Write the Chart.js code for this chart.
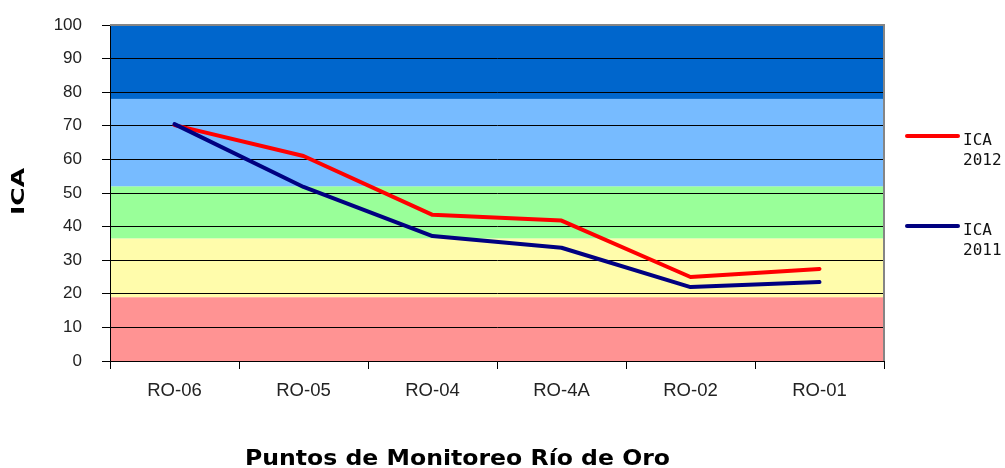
<!DOCTYPE html>
<html>
<head>
<meta charset="utf-8">
<script src="https://cdn.jsdelivr.net/npm/chart.js@4/dist/chart.umd.min.js"></script>
<style>
  html, body { margin: 0; padding: 0; background: #ffffff; }
  #wrap { width: 1005px; height: 468px; }
</style>
</head>
<body>
<div id="wrap"><canvas id="c" width="1005" height="468"></canvas></div>
<script>
// ---- data ----
const categories = ['RO-06', 'RO-05', 'RO-04', 'RO-4A', 'RO-02', 'RO-01'];
const ica2012 = [70.2, 61, 43.5, 41.8, 25, 27.4];
const ica2011 = [70.5, 51.8, 37.2, 33.7, 22, 23.5];
const seriesNames = [['ICA', '2012'], ['ICA', '2011']];
const yTicks = [0, 10, 20, 30, 40, 50, 60, 70, 80, 90, 100];
const bandEdges = [0, 19, 36.5, 52, 78, 100];
const bandColors = ['#FF9393', '#FFFCAB', '#99FF99', '#77BBFF', '#0066CC'];
const xTitle = 'Puntos de Monitoreo Río de Oro';
const yTitle = 'ICA';

const bandsPlugin = {
  id: 'bands',
  beforeDraw(chart) {
    const { ctx, chartArea: a, scales: { y } } = chart;
    ctx.save();
    for (let i = 0; i < bandColors.length; i++) {
      const top = y.getPixelForValue(bandEdges[i + 1]);
      const bot = y.getPixelForValue(bandEdges[i]);
      ctx.fillStyle = bandColors[i];
      ctx.fillRect(a.left, top, a.right - a.left, bot - top);
    }
    ctx.restore();
  },
  afterDraw(chart) {
    const { ctx, chartArea: a } = chart;
    ctx.save();
    // gray top/right frame
    ctx.strokeStyle = '#858585';
    ctx.lineWidth = 2;
    ctx.beginPath();
    ctx.moveTo(a.left, a.top);
    ctx.lineTo(a.right, a.top);
    ctx.lineTo(a.right, a.bottom);
    ctx.stroke();

    // legend
    const ds = chart.data.datasets;
    const legendY = [136, 226];
    ctx.font = '16px "DejaVu Sans Mono"';
    ctx.textBaseline = 'alphabetic';
    ctx.textAlign = 'left';
    ds.forEach((d, i) => {
      const yy = legendY[i];
      ctx.strokeStyle = d.borderColor;
      ctx.lineWidth = 4;
      ctx.lineCap = 'round';
      ctx.beginPath();
      ctx.moveTo(907, yy);
      ctx.lineTo(958, yy);
      ctx.stroke();
      ctx.fillStyle = '#111';
      d.legendLines.forEach((t, k) => {
        ctx.fillText(t, 963, yy + 9 + k * 20);
      });
    });

    // x title
    ctx.fillStyle = '#000';
    ctx.font = 'bold 21px "DejaVu Sans"';
    ctx.textAlign = 'center';
    let w = ctx.measureText(xTitle).width;
    ctx.save();
    ctx.translate(457.5, 465);
    ctx.scale(425 / w, 1);
    ctx.fillText(xTitle, 0, 0);
    ctx.restore();

    // y title
    ctx.font = 'bold 17px "DejaVu Sans"';
    w = ctx.measureText(yTitle).width;
    ctx.save();
    ctx.translate(23.5, 191.5);
    ctx.rotate(-Math.PI / 2);
    ctx.scale(47 / w, 1);
    ctx.textAlign = 'center';
    ctx.fillText(yTitle, 0, 0);
    ctx.restore();
    ctx.restore();
  }
};

new Chart(document.getElementById('c'), {
  type: 'line',
  data: {
    labels: categories,
    datasets: [
      { label: 'ICA 2012', legendLines: seriesNames[0], data: ica2012, borderColor: '#FF0000',
        borderWidth: 4, pointRadius: 0, tension: 0, order: 1,
        borderCapStyle: 'round', borderJoinStyle: 'round' },
      { label: 'ICA 2011', legendLines: seriesNames[1], data: ica2011, borderColor: '#000080',
        borderWidth: 4, pointRadius: 0, tension: 0, order: 0,
        borderCapStyle: 'round', borderJoinStyle: 'round' }
    ]
  },
  options: {
    responsive: false,
    animation: false,
    events: [],
    layout: { padding: { top: 25, right: 121, left: 0, bottom: 0 } },
    plugins: { legend: { display: false }, tooltip: { enabled: false }, title: { display: false } },
    scales: {
      x: {
        offset: true,
        afterFit(s) { s.height = 107; s.paddingLeft = 0; s.paddingRight = 0; },
        grid: { offset: true, drawOnChartArea: false, drawTicks: true, tickLength: 8, color: '#000', lineWidth: 1 },
        border: { color: '#000', width: 1 },
        ticks: { color: '#222', font: { family: '"Liberation Sans", Arial', size: 18.5 }, padding: 11, maxRotation: 0 }
      },
      y: {
        min: 0, max: 100,
        afterFit(s) { s.width = 110; s.paddingTop = 0; s.paddingBottom = 0; },
        afterBuildTicks(s) { s.ticks = yTicks.map(v => ({ value: v })); },
        grid: { color: '#000', lineWidth: 1, tickLength: 8, drawTicks: true },
        border: { color: '#000', width: 1 },
        ticks: { color: '#222', font: { family: '"Liberation Sans", Arial', size: 17 }, padding: 20 }
      }
    }
  },
  plugins: [bandsPlugin]
});
</script>
</body>
</html>
